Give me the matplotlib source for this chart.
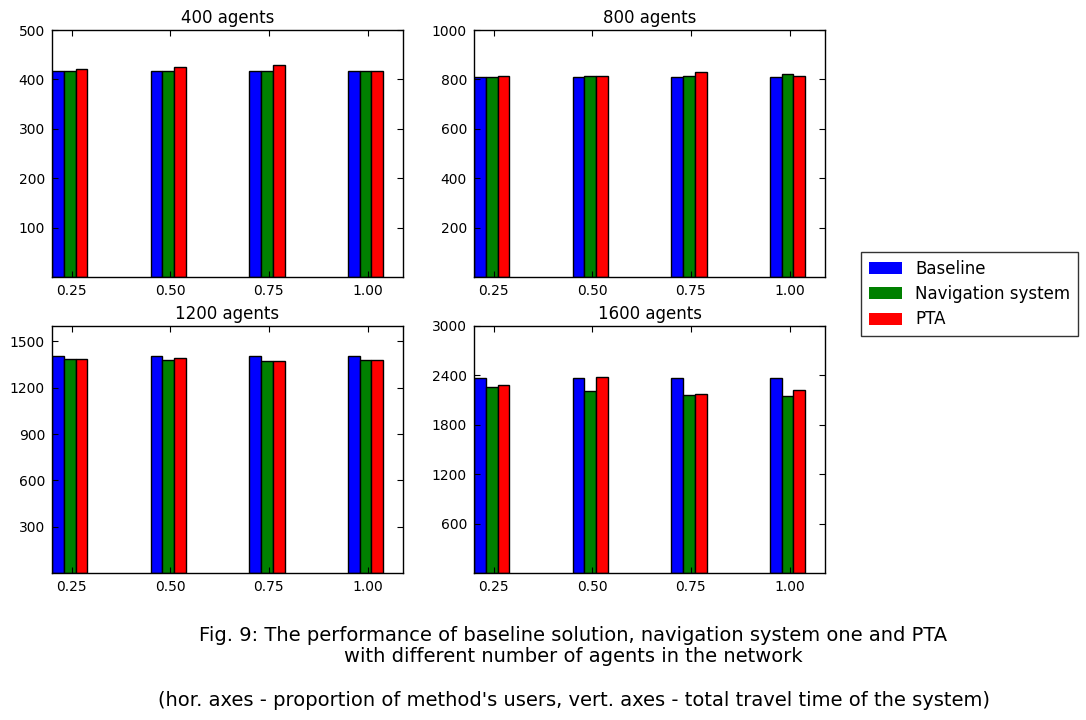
import numpy as np
import matplotlib.pyplot as plt
from matplotlib.patches import Patch

# data
shares = [0.25, 0.50, 0.75, 1.00]
agents = [400, 800, 1200, 1600]
series = ['Baseline', 'Navigation system', 'PTA']
colors = ['#0000ff', '#008000', '#ff0000']

baseline = {
    400: [418, 418, 418, 418],
    800: [810, 810, 810, 810],
    1200: [1405, 1405, 1405, 1405],
    1600: [2365, 2365, 2365, 2365],
}
navigation = {
    400: [418, 418, 418, 418],
    800: [810, 813, 813, 820],
    1200: [1386, 1379, 1371, 1379],
    1600: [2257, 2209, 2160, 2152],
}
pta = {
    400: [421, 425, 429, 418],
    800: [813, 813, 828, 813],
    1200: [1386, 1392, 1371, 1379],
    1600: [2289, 2379, 2172, 2221],
}

ylims = {400: 500, 800: 1000, 1200: 1600, 1600: 3000}
yticks = {
    400: [100, 200, 300, 400, 500],
    800: [200, 400, 600, 800, 1000],
    1200: [300, 600, 900, 1200, 1500],
    1600: [600, 1200, 1800, 2400, 3000],
}

fig = plt.figure(figsize=(10.86, 7.2), dpi=100, facecolor='white')

W, H = 1086, 720
boxes = [(52, 30), (474, 30), (52, 326), (474, 326)]
aw, ah = 351, 247

w = 0.03
x = np.array(shares)
for (left, top), n in zip(boxes, agents):
    ax = fig.add_axes([left / W, (H - top - ah) / H, aw / W, ah / H])
    for k, vals in enumerate([baseline[n], navigation[n], pta[n]]):
        ax.bar(x - 0.05 + k * w, vals, w, align='edge', color=colors[k],
               edgecolor='black', linewidth=1, label=series[k])
    ax.set_xlim(0.2, 1.09)
    ax.set_ylim(0, ylims[n])
    ax.set_xticks(shares)
    ax.set_xticklabels(['%.2f' % s for s in shares])
    ax.set_yticks(yticks[n])
    ax.tick_params(direction='in', top=True, right=True, labelsize=10,
                   length=4, width=0.8, pad=5)
    ax.set_title('%d agents' % n, fontsize=12, pad=5)
    for s in ax.spines.values():
        s.set_linewidth(1)

handles = [Patch(facecolor=c, edgecolor='none') for c in colors]
fig.legend(handles, series, loc='center left',
           bbox_to_anchor=(861 / W, (H - 294) / H), borderaxespad=0,
           fontsize=12, frameon=True, fancybox=False, edgecolor='black',
           handlelength=2.0, handletextpad=0.8, borderpad=0.45,
           labelspacing=0.45)

fig.text(0.528, (H - 646) / H,
         "Fig. 9: The performance of baseline solution, navigation system one and PTA\n"
         "with different number of agents in the network",
         ha='center', va='center', fontsize=14, linespacing=1.15)
fig.text(0.529, (H - 701) / H,
         "(hor. axes - proportion of method's users, vert. axes - total travel time of the system)",
         ha='center', va='center', fontsize=14)

plt.savefig('out.png', dpi=100, facecolor='white')
